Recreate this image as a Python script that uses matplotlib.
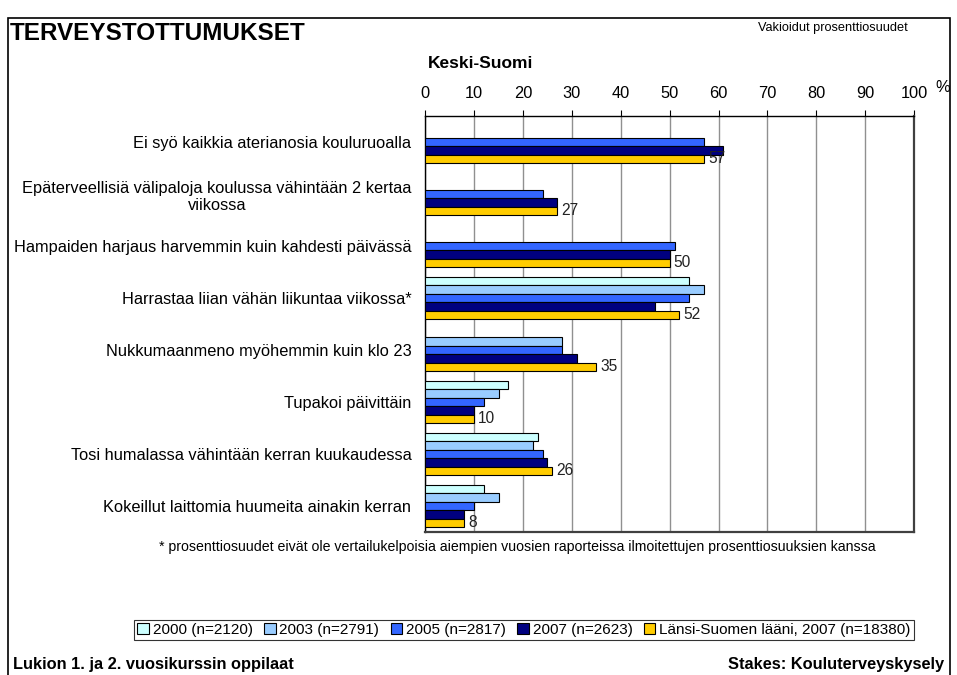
import matplotlib
matplotlib.use("Agg")
import matplotlib.pyplot as plt
from matplotlib.patches import Rectangle, Patch
import numpy as np

plt.rcParams['font.family'] = ['Liberation Sans', 'DejaVu Sans']

categories = [
    "Ei syö kaikkia aterianosia kouluruoalla",
    "Epäterveellisiä välipaloja koulussa vähintään 2 kertaa\nviikossa",
    "Hampaiden harjaus harvemmin kuin kahdesti päivässä",
    "Harrastaa liian vähän liikuntaa viikossa*",
    "Nukkumaanmeno myöhemmin kuin klo 23",
    "Tupakoi päivittäin",
    "Tosi humalassa vähintään kerran kuukaudessa",
    "Kokeillut laittomia huumeita ainakin kerran",
]
nan = np.nan
v2000 = [nan, nan, nan, 54, nan, 17, 23, 12]
v2003 = [nan, nan, nan, 57, 28, 15, 22, 15]
v2005 = [57, 24, 51, 54, 28, 12, 24, 10]
v2007 = [61, 27, 50, 47, 31, 10, 25, 8]
vlansi = [57, 27, 50, 52, 35, 10, 26, 8]
series = [v2000, v2003, v2005, v2007, vlansi]
series_labels = ["2000 (n=2120)", "2003 (n=2791)", "2005 (n=2817)",
                 "2007 (n=2623)", "Länsi-Suomen lääni, 2007 (n=18380)"]
colors = ["#CCFFFF", "#99CCFF", "#3366FF", "#000080", "#FFCC00"]
xticks = list(range(0, 101, 10))

W, H = 957, 675
fig = plt.figure(figsize=(W / 100, H / 100), dpi=100)

def fx(x):
    return x / W

def fy(y):
    return 1 - y / H

# outer border
fig.patches.append(Rectangle((fx(8), fy(690)), fx(950) - fx(8), fy(18) - fy(690),
                             transform=fig.transFigure, fill=False,
                             edgecolor='black', linewidth=1.2))

L, R, T, B = 425.3, 914, 116, 532
ax = fig.add_axes([fx(L), fy(B), fx(R) - fx(L), fy(T) - fy(B)])

n = len(categories)
h = 0.163
y = np.arange(n)
for i, (vals, col, lab) in enumerate(zip(series, colors, series_labels)):
    ax.barh(y + (i - 2) * h, vals, height=h, color=col, edgecolor='black',
            linewidth=0.8, label=lab, zorder=3)

for yi, v in zip(y, vlansi):
    ax.annotate(f"{v}", xy=(v, yi + 2 * h), xytext=(3, 0), textcoords='offset points',
                ha='left', va='center', fontsize=11.2, color='#222222', zorder=4)

ax.set_xlim(0, 100)
ax.set_ylim(n - 0.5, -0.5)
ax.set_xticks(xticks)
ax.set_xticklabels([str(t) for t in xticks])
ax.xaxis.tick_top()
ax.tick_params(axis='x', direction='out', length=4, pad=6.5, labelsize=11.8,
               width=0.8)
ax.set_yticks(y)
ax.set_yticklabels(categories, fontsize=11.8)
for lbl in ax.get_yticklabels():
    lbl.set_multialignment('center')
ax.tick_params(axis='y', length=0, pad=10)
ax.grid(axis='x', color='#909090', linewidth=1, zorder=0)
for s in ['top', 'left']:
    ax.spines[s].set_color('black')
    ax.spines[s].set_linewidth(1)
for s in ['bottom', 'right']:
    ax.spines[s].set_color('#404040')
    ax.spines[s].set_linewidth(1.6)
ax.set_axisbelow(True)

fig.text(fx(943), fy(88), "%", fontsize=11.8, ha='center', va='center')
fig.text(fx(10), fy(34), "TERVEYSTOTTUMUKSET", fontsize=17.5, fontweight='bold',
         ha='left', va='center')
fig.text(fx(908), fy(28), "Vakioidut prosenttiosuudet", fontsize=9.2,
         ha='right', va='center')
fig.text(fx(428), fy(63), "Keski-Suomi", fontsize=12.5, fontweight='bold',
         ha='left', va='center')
fig.text(fx(517), fy(547),
         "* prosenttiosuudet eivät ole vertailukelpoisia aiempien vuosien raporteissa "
         "ilmoitettujen prosenttiosuuksien kanssa",
         fontsize=10.2, ha='center', va='center')
fig.text(fx(13), fy(665), "Lukion 1. ja 2. vuosikurssin oppilaat", fontsize=11.8,
         fontweight='bold', ha='left', va='center')
fig.text(fx(944), fy(664), "Stakes: Kouluterveyskysely", fontsize=11.8,
         fontweight='bold', ha='right', va='center')

handles = [Patch(facecolor=c, edgecolor='black', linewidth=0.8) for c in colors]
leg = fig.legend(handles, series_labels, loc='center', bbox_to_anchor=(fx(524), fy(630)),
                 ncol=5, fontsize=11, frameon=True, fancybox=False,
                 edgecolor='black', handlelength=0.75, handleheight=0.75,
                 handletextpad=0.25, columnspacing=0.75, borderpad=0.2,
                 borderaxespad=0)
leg.get_frame().set_linewidth(0.8)

fig.savefig("out.png", dpi=100)
